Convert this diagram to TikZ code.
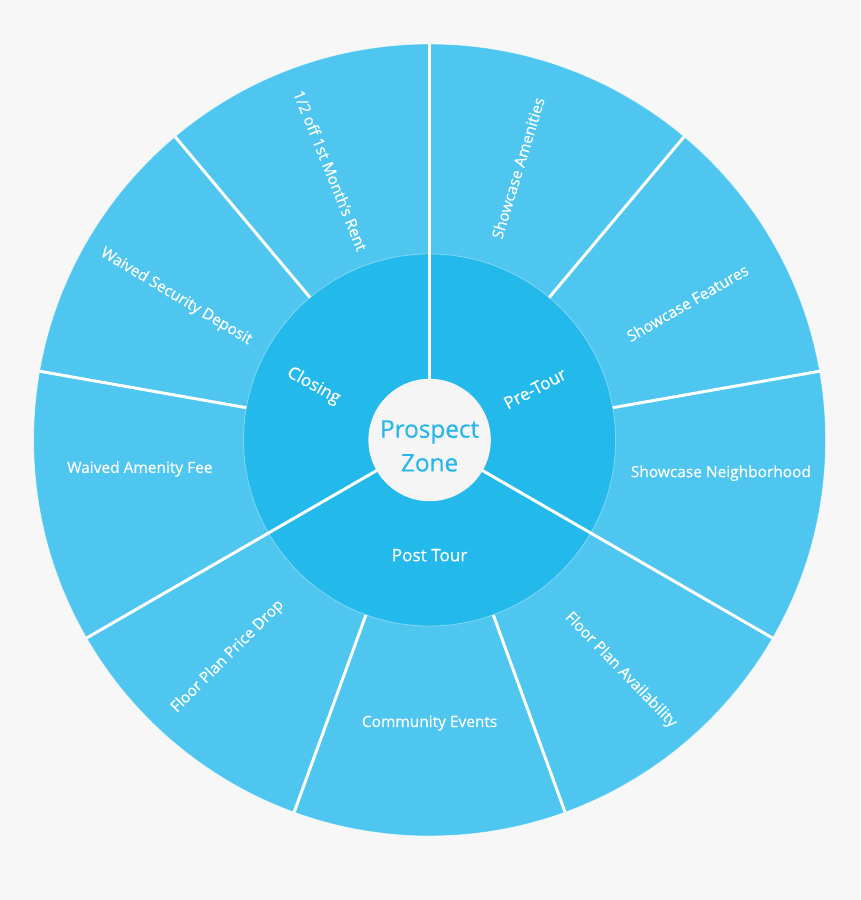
\documentclass[tikz,border=0pt]{standalone}
\usepackage{fontspec}
\setmainfont{Open Sans}[FakeBold=0.45, UprightFont=*, BoldFont=*]
\usepackage{tikz}

\definecolor{pagegray}{HTML}{F7F7F7}
\definecolor{outerblue}{HTML}{4FC6EF}
\definecolor{innerblue}{HTML}{24B9EB}
\definecolor{hubgray}{HTML}{F5F5F5}
\definecolor{hubtext}{HTML}{29B6E8}

\begin{document}
\begin{tikzpicture}[
  outerlabel/.style={text=white, font=\fontsize{11}{13}\selectfont\bfseries},
  innerlabel/.style={text=white, font=\fontsize{12.2}{14}\selectfont\bfseries},
  sepline/.style={draw=white, line width=2.1pt}]
%----------------- page -----------------
\fill[pagegray] (-10.74,-11.5) rectangle (10.76,11);
\useasboundingbox (-10.74,-11.5) rectangle (10.76,11);
%----------------- rings -----------------
\fill[outerblue] (0,0) circle (9.9);
\draw[white, opacity=0.6, line width=0.6pt] (0,0) circle (9.9);
\fill[innerblue] (0,0) circle (4.65);
\draw[white, opacity=0.35, line width=0.6pt] (0,0) circle (4.65);
% outer separators, 40 degrees apart
\draw[sepline] (90:4.65) -- (90:9.9);
\draw[sepline] (50:4.65) -- (50:9.9);
\draw[sepline] (10:4.65) -- (10:9.9);
\draw[sepline] (-30:4.65) -- (-30:9.9);
\draw[sepline] (-70:4.65) -- (-70:9.9);
\draw[sepline] (-110:4.65) -- (-110:9.9);
\draw[sepline] (-150:4.65) -- (-150:9.9);
\draw[sepline] (170:4.65) -- (170:9.9);
\draw[sepline] (130:4.65) -- (130:9.9);
% inner separators
\draw[sepline] (90:1.4) -- (90:4.65);
\draw[sepline] (-30:1.4) -- (-30:4.65);
\draw[sepline] (-150:1.4) -- (-150:4.65);
% hub
\fill[hubgray] (0,0) circle (1.53);
\node[text=hubtext, align=center, font=\fontsize{17.3}{24}\selectfont\bfseries] (hub) at (0,-0.15) {Prospect\\Zone};
%----------------- inner labels -----------------
\node[innerlabel, rotate=28] (pretour) at (26:2.93) {Pre-Tour};
\node[innerlabel] (posttour) at (-90:2.88) {Post Tour};
\node[innerlabel, rotate=-29] (closing) at (155:3.2) {Closing};
%----------------- outer labels -----------------
% pre-tour
\node[outerlabel, rotate=73] (amenities) at (72:7.15) {Showcase Amenities};
\node[outerlabel, rotate=30] (features) at (28:7.3) {Showcase Features};
\node[outerlabel] (neighborhood) at (-6.5:7.33) {Showcase Neighborhood};
% post tour
\node[outerlabel, rotate=-46] (availability) at (-50.3:7.48) {Floor Plan Availability};
\node[outerlabel] (events) at (-90:7.08) {Community Events};
\node[outerlabel, rotate=45] (pricedrop) at (-133:7.4) {Floor Plan Price Drop};
% closing
\node[outerlabel] (amenityfee) at (185.7:7.28) {Waived Amenity Fee};
\node[outerlabel, rotate=-31] (deposit) at (150.5:7.28) {Waived Security Deposit};
\node[outerlabel, rotate=-68] (halfoff) at (110.2:7.18) {1/2 off 1st Month's Rent};
\end{tikzpicture}
\end{document}
